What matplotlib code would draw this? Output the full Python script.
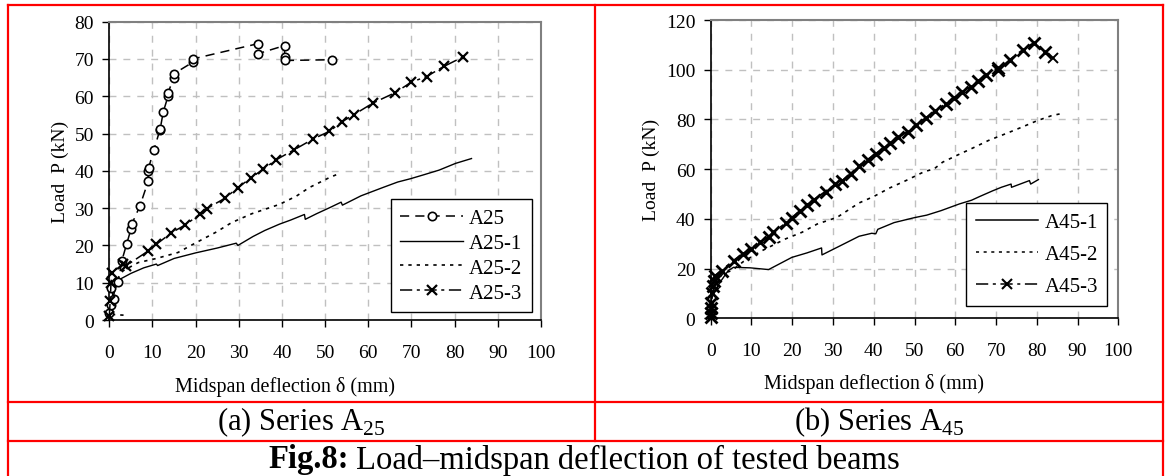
import matplotlib
matplotlib.use("Agg")
import matplotlib.pyplot as plt
from matplotlib.lines import Line2D

plt.rcParams['font.family'] = 'Liberation Serif'
plt.rcParams['mathtext.fontset'] = 'custom'
plt.rcParams['mathtext.rm'] = 'Liberation Serif'

# ---- Series A25 ----
a25_x = [0, 0.5, 1.0, 0.5, 2.1, 2.9, 4.0, 5.0, 5.2, 7.1, 9.0, 9.0, 9.1, 10.3, 11.7, 11.8,
         12.5, 13.6, 13.6, 14.9, 14.9, 19.3, 19.3, 34.4, 34.4, 40.6, 40.6, 40.6, 51.7]
a25_y = [2.0, 4.0, 5.6, 8.7, 10.1, 15.9, 20.3, 24.3, 25.7, 30.6, 37.2, 39.9, 40.8, 45.5, 50.9, 51.3,
         55.8, 60.0, 60.9, 64.9, 66.0, 69.1, 70.0, 74.1, 71.4, 73.6, 70.5, 69.6, 69.8]

a25_1_x = [0, 0.5, 1.5, 2.1, 5, 8, 10.9, 11.2, 15, 20, 25, 29.4, 29.8, 33.3, 36, 39.4, 42, 45.2,
           45.4, 48, 51, 53.7, 54, 58.3, 63.3, 66.8, 69.8, 73, 76.4, 80.2, 83.9]
a25_1_y = [0.5, 4, 9, 10.7, 12.5, 14, 15.0, 14.6, 16.5, 18, 19.3, 20.6, 20.0, 22.4, 24, 25.7, 26.8, 28.3,
           27.0, 28.5, 30.1, 31.6, 30.8, 33.3, 35.5, 37.0, 37.9, 39.0, 40.2, 42.0, 43.3]

a25_2_x = [3.3, 0.2, 0.5, 1.3, 3.2, 6.7, 10.9, 15.9, 20.2, 24.8, 28.3, 33, 39.4, 43.3, 46.3, 51, 53.3]
a25_2_y = [1.3, 1.5, 5, 10.1, 13.2, 15.4, 16.5, 18.1, 20.8, 23.6, 26.1, 28.5, 31.0, 33.2, 35.5, 38.2, 39.3]

a25_3_x = [0, 0.2, 0.4, 0.6, 3.2, 3.8, 9.0, 10.9, 14.4, 17.6, 20.9, 22.6, 26.7, 29.8, 32.9, 35.6,
           38.7, 42.9, 47.3, 51.0, 53.8, 56.7, 61.1, 66.1, 70.0, 73.5, 77.5, 82.0]
a25_3_y = [1, 5, 10, 12.7, 15.0, 14.5, 18.5, 20.3, 23.4, 25.5, 28.3, 29.9, 32.6, 35.5, 38.2, 40.4,
           43.0, 45.7, 48.6, 50.6, 53.1, 55.1, 58.2, 60.9, 63.8, 65.3, 68.0, 70.6]

# ---- Series A45 ----
a45_1_x = [0, 0.2, 2.3, 4.3, 5.6, 9.7, 14.2, 16.3, 19.9, 23.6, 27.2, 27.3, 31.8, 36.4, 39.5, 40.5,
           41, 45, 50, 53, 56.5, 61.0, 64, 66, 69.2, 71.3, 73.7, 73.8, 78.2, 78.5, 80.4]
a45_1_y = [2, 9.1, 14.5, 19.2, 20.5, 20.3, 19.6, 21.4, 24.5, 26.3, 28.3, 25.5, 29.2, 33.0, 34.2, 34.0,
           35.8, 38.5, 40.5, 41.5, 43.3, 46.0, 47.5, 49.0, 51.3, 52.7, 54.0, 52.7, 55.4, 54.0, 55.8]

a45_2_x = [0, 0.3, 1, 3, 5.2, 8.0, 12.6, 18.3, 22.4, 26.1, 31.0, 36.4, 40, 44, 47.9, 52.4, 54.8,
           56.9, 60.6, 64.7, 68.1, 72.9, 76.5, 80.1, 83.6, 85.6]
a45_2_y = [1, 8, 14, 18, 19.2, 22.8, 27.2, 31.9, 34.6, 37.9, 40.6, 46.4, 49, 52.5, 55.4, 59.0, 60.1,
           62.8, 65.7, 68.8, 71.5, 74.6, 77, 79.5, 81.5, 82.2]

a45_3_x = [0, 0, 0, 0.1, 0.3, 0.5, 0.8, 1.1, 2.7, 5.6, 7.9, 9.8, 12.1, 14.2, 15.4, 18.5, 19.9, 22.0,
           23.6, 25.3, 28.2, 30.6, 32.3, 34.3, 36.4, 38.5, 40.5, 42.5, 44.0, 46.0, 48.3, 50.3, 52.8,
           55.1, 57.7, 59.6, 61.6, 63.9, 65.7, 67.6, 70.4, 70.4, 73.5, 76.6, 79.2, 81.9]
a45_3_y = [0.5, 2, 4, 6, 10, 13, 15, 17.2, 19.2, 23.2, 25.9, 27.9, 30.6, 32.8, 34.6, 38.3, 40.4, 43.3,
           45.6, 47.7, 51.0, 54.0, 55.4, 58.1, 61.4, 63.8, 66.2, 68.5, 70.4, 72.8, 75.1, 77.8, 80.6,
           83.5, 86.2, 88.5, 90.9, 93.2, 95.6, 97.9, 100.6, 99.7, 104.1, 108.0, 110.7, 107.3]
# last reading of A45-3, shown as a lone marker
a45_3_last_x = [84.0]
a45_3_last_y = [104.6]

W, H = 1166, 477
fig = plt.figure(figsize=(W / 100, H / 100), dpi=100)

grid_kw = dict(color='#c0c0c0', linestyle=(0, (5, 5)), linewidth=1.0)


def style_axes(ax, xmax, ymax, ystep, xlab_pos):
    ax.set_xlim(0, xmax)
    ax.set_ylim(0, ymax)
    ax.set_xticks(range(0, xmax + 1, 10))
    ax.set_yticks(range(0, ymax + 1, ystep))
    ax.grid(True, **grid_kw)
    ax.set_axisbelow(True)
    for s in ['top', 'right']:
        ax.spines[s].set_color('#808080')
        ax.spines[s].set_linewidth(1.5)
    for s in ['left', 'bottom']:
        ax.spines[s].set_color('black')
        ax.spines[s].set_linewidth(1.2)
    ax.tick_params(axis='x', direction='out', length=5, width=1, pad=12, labelsize=14)
    ax.tick_params(axis='y', direction='out', length=5, width=1, pad=6, labelsize=14)
    ax.set_xlabel('Midspan deflection δ (mm)', fontsize=14.5)
    ax.xaxis.label.set_va('center')
    ax.xaxis.set_label_coords(*xlab_pos)
    ax.set_ylabel('Load  P (kN)', fontsize=14, labelpad=4)


leg_kw = dict(loc='lower right', borderaxespad=0, fontsize=15, handlelength=3.0,
              handletextpad=0.3, numpoints=1, fancybox=False, framealpha=1,
              edgecolor='black', borderpad=0.45)

# left panel
ax1 = fig.add_axes([109.3 / W, (H - 321) / H, (541 - 109.3) / W, 298.3 / H])
style_axes(ax1, 100, 80, 10, (0.407, -0.22))
ax1.plot(a25_x, a25_y, color='black', lw=1.1, ls=(0, (6, 4)), marker='o', ms=6,
         mfc='white', mec='black', mew=1.2, label='A25', clip_on=False, zorder=4)
ax1.plot(a25_1_x, a25_1_y, color='black', lw=1.0, ls='-', label='A25-1', zorder=3)
ax1.plot(a25_2_x, a25_2_y, color='black', lw=1.2, ls=(0, (2, 3)), label='A25-2', zorder=3)
ax1.plot(a25_3_x, a25_3_y, color='black', lw=1.1, ls=(0, (8, 3, 2, 3)), marker='x', ms=7,
         mew=1.6, label='A25-3', clip_on=False, zorder=4)
leg1 = ax1.legend(bbox_to_anchor=(0.979, 0.027), labelspacing=0.25, **leg_kw)
leg1.get_frame().set_linewidth(1.0)

# right panel
ax2 = fig.add_axes([710.7 / W, (H - 319.3) / H, 407.6 / W, 298.3 / H])
style_axes(ax2, 100, 120, 20, (0.40, -0.217))
ax2.plot(a45_1_x, a45_1_y, color='black', lw=1.0, ls='-', label='A45-1', zorder=3)
ax2.plot(a45_2_x, a45_2_y, color='black', lw=1.2, ls=(0, (2, 3)), label='A45-2', zorder=3)
ax2.plot(a45_3_x, a45_3_y, color='black', lw=1.5, ls=(0, (8, 3, 2, 3)), marker='x', ms=8,
         mew=2.0, label='A45-3', clip_on=False, zorder=4)
ax2.plot(a45_3_last_x, a45_3_last_y, color='black', ls='none', marker='x', ms=7, mew=1.4, zorder=4)
leg2 = ax2.legend(bbox_to_anchor=(0.973, 0.042), labelspacing=0.6, **leg_kw)
leg2.get_frame().set_linewidth(1.0)
for ln in leg2.get_lines():
    ln.set_linewidth(1.1)
    ln.set_markersize(7)
    ln.set_markeredgewidth(1.5)

# red table lines
def fline(x0, y0, x1, y1):
    fig.add_artist(Line2D([x0 / W, x1 / W], [1 - y0 / H, 1 - y1 / H],
                          transform=fig.transFigure, color='red', lw=1.6))

fline(8.3, 5.7, 1163, 5.7)
fline(8.3, 5.7, 8.3, 477)
fline(1163, 5.7, 1163, 477)
fline(595, 5.7, 595, 441.7)
fline(8.3, 402.7, 1163, 402.7)
fline(8.3, 441.7, 1163, 441.7)

# sub captions
fig.text(301.5 / W, 1 - 422 / H, '(a) Series A$_{\\mathrm{25}}$', ha='center', va='center', fontsize=22)
fig.text(879 / W, 1 - 422 / H, '(b) Series A$_{\\mathrm{45}}$', ha='center', va='center', fontsize=22)

# main caption: bold part + normal part
cy = 1 - 460 / H
t1 = fig.text(0, cy, 'Fig.8:', fontsize=23.5, fontweight='bold', va='center')
t2 = fig.text(0, cy, 'Load–midspan deflection of tested beams', fontsize=23.5, va='center')
r = fig.canvas.get_renderer()
w1 = t1.get_window_extent(r).width
w2 = t2.get_window_extent(r).width
gap = 7
x0 = 584 - (w1 + gap + w2) / 2
t1.set_x(x0 / W)
t2.set_x((x0 + w1 + gap) / W)

fig.savefig('out.png', dpi=100)
